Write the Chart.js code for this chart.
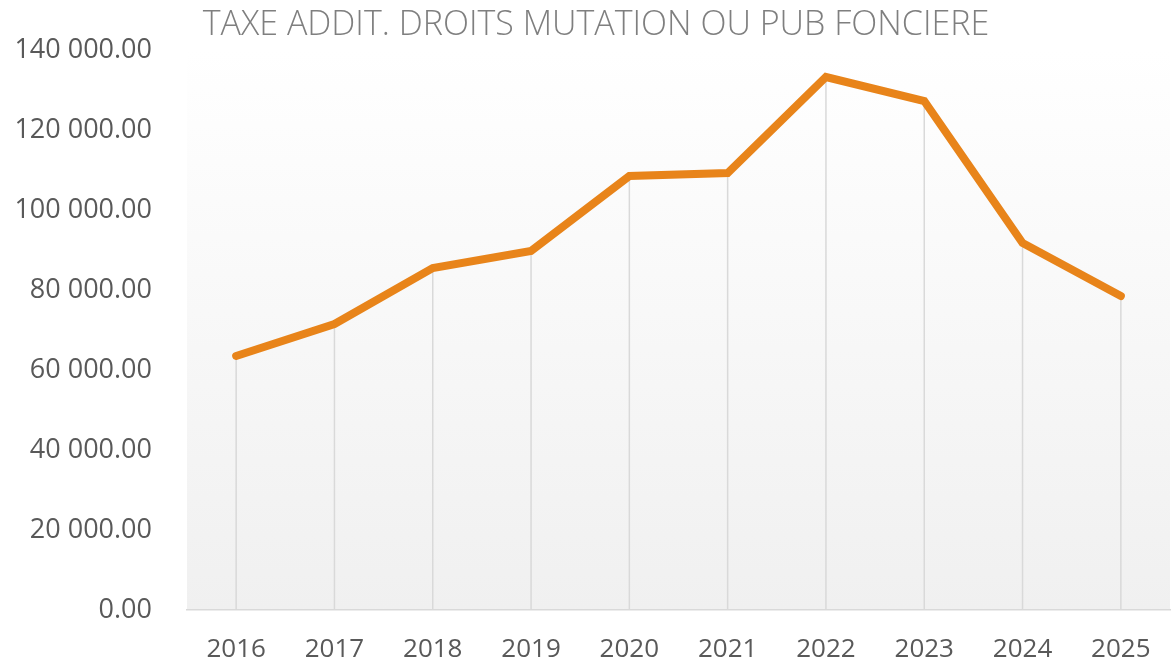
<!DOCTYPE html>
<html>
<head>
<meta charset="utf-8">
<script src="https://cdn.jsdelivr.net/npm/chart.js@4"></script>
<style>
  html, body { margin: 0; padding: 0; background: #fff; }
  #wrap { width: 1175px; height: 659px; }
</style>
</head>
<body>
<div id="wrap"><canvas id="taxe-chart"></canvas></div>
<script>
const annees = ["2016", "2017", "2018", "2019", "2020", "2021", "2022", "2023", "2024", "2025"];
const montants = [63500, 71500, 85500, 89750, 108500, 109250, 133250, 127250, 91750, 78500];
const titre = "TAXE ADDIT. DROITS MUTATION OU PUB FONCIERE";

function formater(v) {
  const parts = v.toFixed(2).split(".");
  parts[0] = parts[0].replace(/\B(?=(\d{3})+(?!\d))/g, " ");
  return parts.join(".");
}

// fond dégradé de la zone de tracé
const fondPlugin = {
  id: "fond",
  beforeDraw(chart) {
    const { ctx, chartArea: a } = chart;
    const g = ctx.createLinearGradient(0, a.top, 0, a.bottom);
    g.addColorStop(0, "#ffffff");
    g.addColorStop(1, "#f0f0f0");
    ctx.save();
    ctx.fillStyle = g;
    ctx.fillRect(a.left, a.top, a.right - a.left, a.bottom - a.top);
    ctx.restore();
  }
};

// lignes de projection verticales
const projectionPlugin = {
  id: "projection",
  beforeDatasetsDraw(chart) {
    const { ctx, chartArea: a } = chart;
    const meta = chart.getDatasetMeta(0);
    ctx.save();
    ctx.strokeStyle = "#d9d9d9";
    ctx.lineWidth = 1.5;
    meta.data.forEach((p) => {
      ctx.beginPath();
      ctx.moveTo(p.x, p.y);
      ctx.lineTo(p.x, a.bottom);
      ctx.stroke();
    });
    ctx.restore();
  }
};

// titre (un peu décalé à droite comme dans Excel)
const titrePlugin = {
  id: "titre",
  afterDraw(chart) {
    const { ctx } = chart;
    ctx.save();
    ctx.fillStyle = "#7f7f7f";
    ctx.font = "300 34px 'Open Sans'";
    ctx.textAlign = "center";
    ctx.textBaseline = "alphabetic";
    ctx.fillText(titre, 596, 35);
    ctx.restore();
  }
};

const ctx = document.getElementById("taxe-chart").getContext("2d");
new Chart(ctx, {
  type: "line",
  data: {
    labels: annees,
    datasets: [{
      label: titre,
      data: montants,
      borderColor: "#e8841a",
      borderWidth: 8,
      borderCapStyle: "round",
      tension: 0,
      pointRadius: 0,
      fill: false
    }]
  },
  options: {
    responsive: true,
    maintainAspectRatio: false,
    animation: false,
    layout: { padding: { left: 0, right: 5, top: 50, bottom: 0 } },
    plugins: {
      legend: { display: false },
      tooltip: { enabled: false },
      title: { display: false }
    },
    scales: {
      x: {
        offset: true,
        grid: { display: false },
        border: { color: "#d9d9d9", width: 1.5 },
        afterFit(scale) { scale.height = 49; },
        ticks: { color: "#595959", font: { family: "Open Sans", size: 26 }, padding: 16 }
      },
      y: {
        min: 0,
        max: 140000,
        grid: { display: false },
        border: { display: false },
        afterFit(scale) { scale.width = 187; },
        ticks: {
          stepSize: 20000,
          color: "#595959",
          font: { family: "Open Sans", size: 27 },
          padding: 27,
          callback: (v) => formater(v)
        }
      }
    }
  },
  plugins: [fondPlugin, projectionPlugin, titrePlugin]
});
</script>
</body>
</html>
